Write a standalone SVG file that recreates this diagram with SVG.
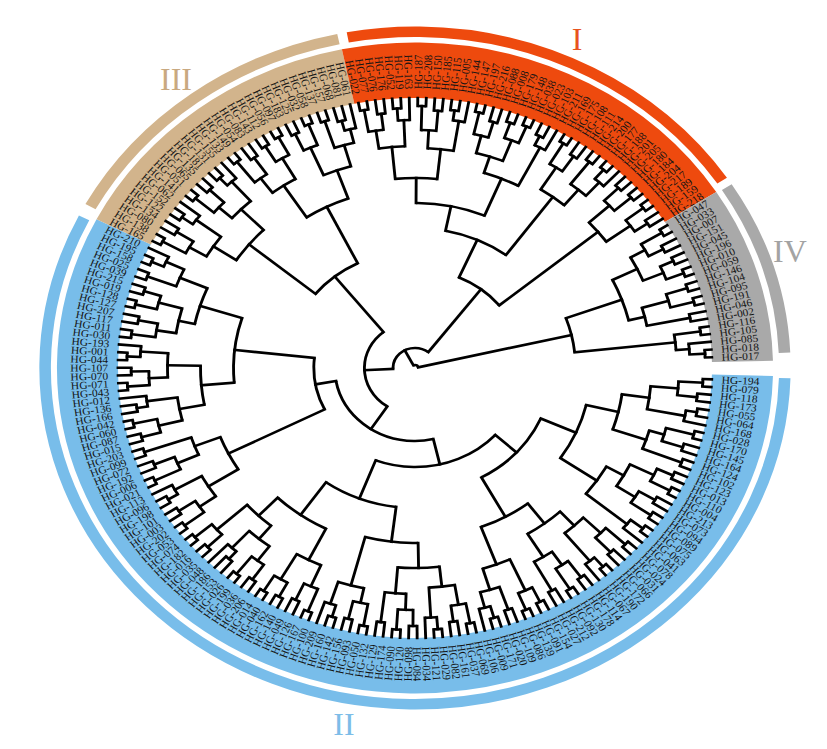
<svg xmlns="http://www.w3.org/2000/svg" width="827" height="749" viewBox="0 0 827 749">
<style>
.tree line,.tree circle{fill:none;stroke:#000;stroke-width:2.6}
.tree line{stroke-linecap:square}
.lb text{font-family:"Liberation Serif","Times New Roman",serif;font-size:10.5px;fill:#141414;dominant-baseline:central}
.lb .e{text-anchor:end}
.bd{fill:none}
.rn{font-family:"Liberation Serif","Times New Roman",serif;font-size:32px;text-anchor:middle}
</style>
<rect width="827" height="749" fill="#fff"/>
<g transform="translate(415,368) scale(1.1,1)">
<g id="bands" transform="rotate(0.755)">
<circle class="bd" r="297.75" stroke-width="55.5" pathLength="218.845" stroke="#78BDEA" stroke-dasharray="0 0.4 125.1 999"/>
<circle class="bd" r="297.75" stroke-width="55.5" pathLength="218.845" stroke="#D2B48C" stroke-dasharray="0 125.5 31 999"/>
<circle class="bd" r="297.75" stroke-width="55.5" pathLength="218.845" stroke="#EE4A0E" stroke-dasharray="0 156.5 42 999"/>
<circle class="bd" r="297.75" stroke-width="55.5" pathLength="218.845" stroke="#A9A9A9" stroke-dasharray="0 198.5 19.1 999"/>
<circle class="bd" r="336.25" stroke-width="10.5" pathLength="218.845" stroke="#78BDEA" stroke-dasharray="0 0.6 124.5 999"/>
<circle class="bd" r="336.25" stroke-width="10.5" pathLength="218.845" stroke="#D2B48C" stroke-dasharray="0 126.4 30 999"/>
<circle class="bd" r="336.25" stroke-width="10.5" pathLength="218.845" stroke="#EE4A0E" stroke-dasharray="0 157.3 40.5 999"/>
<circle class="bd" r="336.25" stroke-width="10.5" pathLength="218.845" stroke="#A9A9A9" stroke-dasharray="0 198.6 18.2 999"/>
</g>
<g id="connectors" class="tree">
<g transform="rotate(0.755)">
<circle r="262" pathLength="218.845" stroke-dasharray="0 1 1 999"/>
<circle r="258" pathLength="218.845" stroke-dasharray="0 3 1 999"/>
<circle r="240" pathLength="218.845" stroke-dasharray="0 1.5 2 999"/>
<circle r="260" pathLength="218.845" stroke-dasharray="0 5 1 999"/>
<circle r="250" pathLength="218.845" stroke-dasharray="0 5.5 1.5 999"/>
<circle r="215" pathLength="218.845" stroke-dasharray="0 2.5 3.75 999"/>
<circle r="262" pathLength="218.845" stroke-dasharray="0 8 1 999"/>
<circle r="256" pathLength="218.845" stroke-dasharray="0 10 1 999"/>
<circle r="236" pathLength="218.845" stroke-dasharray="0 8.5 2 999"/>
<circle r="260" pathLength="218.845" stroke-dasharray="0 12 1 999"/>
<circle r="222" pathLength="218.845" stroke-dasharray="0 9.5 3 999"/>
<circle r="190" pathLength="218.845" stroke-dasharray="0 4.375 6.625 999"/>
<circle r="258" pathLength="218.845" stroke-dasharray="0 14 1 999"/>
<circle r="262" pathLength="218.845" stroke-dasharray="0 16 1 999"/>
<circle r="242" pathLength="218.845" stroke-dasharray="0 14.5 2 999"/>
<circle r="255" pathLength="218.845" stroke-dasharray="0 18 1 999"/>
<circle r="260" pathLength="218.845" stroke-dasharray="0 20 1 999"/>
<circle r="238" pathLength="218.845" stroke-dasharray="0 18.5 2 999"/>
<circle r="218" pathLength="218.845" stroke-dasharray="0 15.5 4 999"/>
<circle r="262" pathLength="218.845" stroke-dasharray="0 22 1 999"/>
<circle r="248" pathLength="218.845" stroke-dasharray="0 22.5 1.5 999"/>
<circle r="200" pathLength="218.845" stroke-dasharray="0 17.5 5.75 999"/>
<circle r="160" pathLength="218.845" stroke-dasharray="0 7.6875 12.6875 999"/>
<circle r="260" pathLength="218.845" stroke-dasharray="0 25 1 999"/>
<circle r="256" pathLength="218.845" stroke-dasharray="0 27 1 999"/>
<circle r="236" pathLength="218.845" stroke-dasharray="0 25.5 2 999"/>
<circle r="262" pathLength="218.845" stroke-dasharray="0 29 1 999"/>
<circle r="250" pathLength="218.845" stroke-dasharray="0 29.5 1.5 999"/>
<circle r="214" pathLength="218.845" stroke-dasharray="0 26.5 3.75 999"/>
<circle r="258" pathLength="218.845" stroke-dasharray="0 32 1 999"/>
<circle r="262" pathLength="218.845" stroke-dasharray="0 34 1 999"/>
<circle r="238" pathLength="218.845" stroke-dasharray="0 32.5 2 999"/>
<circle r="255" pathLength="218.845" stroke-dasharray="0 36 1 999"/>
<circle r="222" pathLength="218.845" stroke-dasharray="0 33.5 3 999"/>
<circle r="195" pathLength="218.845" stroke-dasharray="0 28.375 6.625 999"/>
<circle r="260" pathLength="218.845" stroke-dasharray="0 38 1 999"/>
<circle r="262" pathLength="218.845" stroke-dasharray="0 40 1 999"/>
<circle r="244" pathLength="218.845" stroke-dasharray="0 38.5 2 999"/>
<circle r="256" pathLength="218.845" stroke-dasharray="0 42 1 999"/>
<circle r="260" pathLength="218.845" stroke-dasharray="0 44 1 999"/>
<circle r="248" pathLength="218.845" stroke-dasharray="0 44.5 1.5 999"/>
<circle r="232" pathLength="218.845" stroke-dasharray="0 42.5 2.75 999"/>
<circle r="210" pathLength="218.845" stroke-dasharray="0 39.5 4.375 999"/>
<circle r="170" pathLength="218.845" stroke-dasharray="0 31.6875 10 999"/>
<circle r="125" pathLength="218.845" stroke-dasharray="0 14.03125 22.65625 999"/>
<circle r="260" pathLength="218.845" stroke-dasharray="0 47 1 999"/>
<circle r="256" pathLength="218.845" stroke-dasharray="0 49 1 999"/>
<circle r="240" pathLength="218.845" stroke-dasharray="0 47.5 2 999"/>
<circle r="262" pathLength="218.845" stroke-dasharray="0 51 1 999"/>
<circle r="250" pathLength="218.845" stroke-dasharray="0 51.5 1.5 999"/>
<circle r="220" pathLength="218.845" stroke-dasharray="0 48.5 3.75 999"/>
<circle r="258" pathLength="218.845" stroke-dasharray="0 54 1 999"/>
<circle r="262" pathLength="218.845" stroke-dasharray="0 56 1 999"/>
<circle r="242" pathLength="218.845" stroke-dasharray="0 54.5 2 999"/>
<circle r="256" pathLength="218.845" stroke-dasharray="0 58 1 999"/>
<circle r="226" pathLength="218.845" stroke-dasharray="0 55.5 3 999"/>
<circle r="200" pathLength="218.845" stroke-dasharray="0 50.375 6.625 999"/>
<circle r="262" pathLength="218.845" stroke-dasharray="0 60 1 999"/>
<circle r="258" pathLength="218.845" stroke-dasharray="0 62 1 999"/>
<circle r="240" pathLength="218.845" stroke-dasharray="0 60.5 2 999"/>
<circle r="260" pathLength="218.845" stroke-dasharray="0 64 1 999"/>
<circle r="248" pathLength="218.845" stroke-dasharray="0 64.5 1.5 999"/>
<circle r="225" pathLength="218.845" stroke-dasharray="0 61.5 3.75 999"/>
<circle r="175" pathLength="218.845" stroke-dasharray="0 53.6875 9.6875 999"/>
<circle r="262" pathLength="218.845" stroke-dasharray="0 67 1 999"/>
<circle r="256" pathLength="218.845" stroke-dasharray="0 69 1 999"/>
<circle r="238" pathLength="218.845" stroke-dasharray="0 67.5 2 999"/>
<circle r="260" pathLength="218.845" stroke-dasharray="0 71 1 999"/>
<circle r="262" pathLength="218.845" stroke-dasharray="0 73 1 999"/>
<circle r="244" pathLength="218.845" stroke-dasharray="0 71.5 2 999"/>
<circle r="215" pathLength="218.845" stroke-dasharray="0 68.5 4 999"/>
<circle r="258" pathLength="218.845" stroke-dasharray="0 75 1 999"/>
<circle r="262" pathLength="218.845" stroke-dasharray="0 77 1 999"/>
<circle r="240" pathLength="218.845" stroke-dasharray="0 75.5 2 999"/>
<circle r="255" pathLength="218.845" stroke-dasharray="0 79 1 999"/>
<circle r="245" pathLength="218.845" stroke-dasharray="0 79.5 1.5 999"/>
<circle r="222" pathLength="218.845" stroke-dasharray="0 76.5 3.75 999"/>
<circle r="260" pathLength="218.845" stroke-dasharray="0 82 1 999"/>
<circle r="262" pathLength="218.845" stroke-dasharray="0 84 1 999"/>
<circle r="242" pathLength="218.845" stroke-dasharray="0 82.5 2 999"/>
<circle r="205" pathLength="218.845" stroke-dasharray="0 78.375 5.125 999"/>
<circle r="180" pathLength="218.845" stroke-dasharray="0 70.5 10.4375 999"/>
<circle r="140" pathLength="218.845" stroke-dasharray="0 58.53125 17.1875 999"/>
<circle r="99" pathLength="218.845" stroke-dasharray="0 25.359375 41.765625 999"/>
<circle r="262" pathLength="218.845" stroke-dasharray="0 86 1 999"/>
<circle r="258" pathLength="218.845" stroke-dasharray="0 88 1 999"/>
<circle r="240" pathLength="218.845" stroke-dasharray="0 86.5 2 999"/>
<circle r="260" pathLength="218.845" stroke-dasharray="0 90 1 999"/>
<circle r="250" pathLength="218.845" stroke-dasharray="0 90.5 1.5 999"/>
<circle r="222" pathLength="218.845" stroke-dasharray="0 87.5 3.75 999"/>
<circle r="262" pathLength="218.845" stroke-dasharray="0 93 1 999"/>
<circle r="256" pathLength="218.845" stroke-dasharray="0 95 1 999"/>
<circle r="236" pathLength="218.845" stroke-dasharray="0 93.5 2 999"/>
<circle r="260" pathLength="218.845" stroke-dasharray="0 97 1 999"/>
<circle r="215" pathLength="218.845" stroke-dasharray="0 94.5 3 999"/>
<circle r="190" pathLength="218.845" stroke-dasharray="0 89.375 6.625 999"/>
<circle r="258" pathLength="218.845" stroke-dasharray="0 99 1 999"/>
<circle r="262" pathLength="218.845" stroke-dasharray="0 101 1 999"/>
<circle r="240" pathLength="218.845" stroke-dasharray="0 99.5 2 999"/>
<circle r="256" pathLength="218.845" stroke-dasharray="0 103 1 999"/>
<circle r="246" pathLength="218.845" stroke-dasharray="0 103.5 1.5 999"/>
<circle r="218" pathLength="218.845" stroke-dasharray="0 100.5 3.75 999"/>
<circle r="262" pathLength="218.845" stroke-dasharray="0 106 1 999"/>
<circle r="258" pathLength="218.845" stroke-dasharray="0 108 1 999"/>
<circle r="242" pathLength="218.845" stroke-dasharray="0 106.5 2 999"/>
<circle r="262" pathLength="218.845" stroke-dasharray="0 110 1 999"/>
<circle r="250" pathLength="218.845" stroke-dasharray="0 110.5 1.5 999"/>
<circle r="225" pathLength="218.845" stroke-dasharray="0 107.5 3.75 999"/>
<circle r="195" pathLength="218.845" stroke-dasharray="0 102.375 7 999"/>
<circle r="260" pathLength="218.845" stroke-dasharray="0 113 1 999"/>
<circle r="256" pathLength="218.845" stroke-dasharray="0 115 1 999"/>
<circle r="238" pathLength="218.845" stroke-dasharray="0 113.5 2 999"/>
<circle r="262" pathLength="218.845" stroke-dasharray="0 117 1 999"/>
<circle r="258" pathLength="218.845" stroke-dasharray="0 119 1 999"/>
<circle r="242" pathLength="218.845" stroke-dasharray="0 117.5 2 999"/>
<circle r="220" pathLength="218.845" stroke-dasharray="0 114.5 4 999"/>
<circle r="260" pathLength="218.845" stroke-dasharray="0 121 1 999"/>
<circle r="262" pathLength="218.845" stroke-dasharray="0 123 1 999"/>
<circle r="250" pathLength="218.845" stroke-dasharray="0 123.5 1.5 999"/>
<circle r="232" pathLength="218.845" stroke-dasharray="0 121.5 2.75 999"/>
<circle r="205" pathLength="218.845" stroke-dasharray="0 116.5 6.375 999"/>
<circle r="165" pathLength="218.845" stroke-dasharray="0 105.875 13.8125 999"/>
<circle r="92" pathLength="218.845" stroke-dasharray="0 92.6875 20.09375 999"/>
<circle r="73" pathLength="218.845" stroke-dasharray="0 46.2421875 56.4921875 999"/>
<circle r="262" pathLength="218.845" stroke-dasharray="0 126 1 999"/>
<circle r="256" pathLength="218.845" stroke-dasharray="0 128 1 999"/>
<circle r="238" pathLength="218.845" stroke-dasharray="0 126.5 2 999"/>
<circle r="260" pathLength="218.845" stroke-dasharray="0 130 1 999"/>
<circle r="248" pathLength="218.845" stroke-dasharray="0 130.5 1.5 999"/>
<circle r="220" pathLength="218.845" stroke-dasharray="0 127.5 3.75 999"/>
<circle r="262" pathLength="218.845" stroke-dasharray="0 133 1 999"/>
<circle r="258" pathLength="218.845" stroke-dasharray="0 135 1 999"/>
<circle r="240" pathLength="218.845" stroke-dasharray="0 133.5 2 999"/>
<circle r="260" pathLength="218.845" stroke-dasharray="0 137 1 999"/>
<circle r="250" pathLength="218.845" stroke-dasharray="0 137.5 1.5 999"/>
<circle r="224" pathLength="218.845" stroke-dasharray="0 134.5 3.75 999"/>
<circle r="195" pathLength="218.845" stroke-dasharray="0 129.375 7 999"/>
<circle r="262" pathLength="218.845" stroke-dasharray="0 140 1 999"/>
<circle r="256" pathLength="218.845" stroke-dasharray="0 142 1 999"/>
<circle r="236" pathLength="218.845" stroke-dasharray="0 140.5 2 999"/>
<circle r="260" pathLength="218.845" stroke-dasharray="0 144 1 999"/>
<circle r="262" pathLength="218.845" stroke-dasharray="0 146 1 999"/>
<circle r="242" pathLength="218.845" stroke-dasharray="0 144.5 2 999"/>
<circle r="218" pathLength="218.845" stroke-dasharray="0 141.5 4 999"/>
<circle r="258" pathLength="218.845" stroke-dasharray="0 148 1 999"/>
<circle r="262" pathLength="218.845" stroke-dasharray="0 150 1 999"/>
<circle r="240" pathLength="218.845" stroke-dasharray="0 148.5 2 999"/>
<circle r="260" pathLength="218.845" stroke-dasharray="0 152 1 999"/>
<circle r="256" pathLength="218.845" stroke-dasharray="0 154 1 999"/>
<circle r="246" pathLength="218.845" stroke-dasharray="0 154.5 1.5 999"/>
<circle r="232" pathLength="218.845" stroke-dasharray="0 152.5 2.75 999"/>
<circle r="210" pathLength="218.845" stroke-dasharray="0 149.5 4.375 999"/>
<circle r="180" pathLength="218.845" stroke-dasharray="0 143.5 8.1875 999"/>
<circle r="117" pathLength="218.845" stroke-dasharray="0 132.875 14.71875 999"/>
<circle r="46" pathLength="218.845" stroke-dasharray="0 74.48828 65.74609 999"/>
<circle r="262" pathLength="218.845" stroke-dasharray="0 157 1 999"/>
<circle r="256" pathLength="218.845" stroke-dasharray="0 159 1 999"/>
<circle r="240" pathLength="218.845" stroke-dasharray="0 157.5 2 999"/>
<circle r="260" pathLength="218.845" stroke-dasharray="0 161 1 999"/>
<circle r="248" pathLength="218.845" stroke-dasharray="0 161.5 1.5 999"/>
<circle r="222" pathLength="218.845" stroke-dasharray="0 158.5 3.75 999"/>
<circle r="262" pathLength="218.845" stroke-dasharray="0 164 1 999"/>
<circle r="258" pathLength="218.845" stroke-dasharray="0 166 1 999"/>
<circle r="238" pathLength="218.845" stroke-dasharray="0 164.5 2 999"/>
<circle r="260" pathLength="218.845" stroke-dasharray="0 168 1 999"/>
<circle r="250" pathLength="218.845" stroke-dasharray="0 168.5 1.5 999"/>
<circle r="220" pathLength="218.845" stroke-dasharray="0 165.5 3.75 999"/>
<circle r="190" pathLength="218.845" stroke-dasharray="0 160.375 7 999"/>
<circle r="262" pathLength="218.845" stroke-dasharray="0 171 1 999"/>
<circle r="256" pathLength="218.845" stroke-dasharray="0 173 1 999"/>
<circle r="240" pathLength="218.845" stroke-dasharray="0 171.5 2 999"/>
<circle r="260" pathLength="218.845" stroke-dasharray="0 175 1 999"/>
<circle r="262" pathLength="218.845" stroke-dasharray="0 177 1 999"/>
<circle r="244" pathLength="218.845" stroke-dasharray="0 175.5 2 999"/>
<circle r="222" pathLength="218.845" stroke-dasharray="0 172.5 4 999"/>
<circle r="258" pathLength="218.845" stroke-dasharray="0 179 1 999"/>
<circle r="248" pathLength="218.845" stroke-dasharray="0 179.5 1.5 999"/>
<circle r="205" pathLength="218.845" stroke-dasharray="0 174.5 5.75 999"/>
<circle r="165" pathLength="218.845" stroke-dasharray="0 163.875 13.5 999"/>
<circle r="262" pathLength="218.845" stroke-dasharray="0 182 1 999"/>
<circle r="256" pathLength="218.845" stroke-dasharray="0 184 1 999"/>
<circle r="238" pathLength="218.845" stroke-dasharray="0 182.5 2 999"/>
<circle r="260" pathLength="218.845" stroke-dasharray="0 186 1 999"/>
<circle r="262" pathLength="218.845" stroke-dasharray="0 188 1 999"/>
<circle r="250" pathLength="218.845" stroke-dasharray="0 188.5 1.5 999"/>
<circle r="232" pathLength="218.845" stroke-dasharray="0 186.5 2.75 999"/>
<circle r="212" pathLength="218.845" stroke-dasharray="0 183.5 4.375 999"/>
<circle r="140" pathLength="218.845" stroke-dasharray="0 170.625 15.0625 999"/>
<circle r="258" pathLength="218.845" stroke-dasharray="0 191 1 999"/>
<circle r="260" pathLength="218.845" stroke-dasharray="0 193 1 999"/>
<circle r="240" pathLength="218.845" stroke-dasharray="0 191.5 2 999"/>
<circle r="262" pathLength="218.845" stroke-dasharray="0 195 1 999"/>
<circle r="256" pathLength="218.845" stroke-dasharray="0 197 1 999"/>
<circle r="242" pathLength="218.845" stroke-dasharray="0 195.5 2 999"/>
<circle r="215" pathLength="218.845" stroke-dasharray="0 192.5 4 999"/>
<circle r="99" pathLength="218.845" stroke-dasharray="0 178.15625 16.34375 999"/>
<circle r="20" pathLength="218.845" stroke-dasharray="0 107.3613 78.9668 999"/>
<circle r="262" pathLength="218.845" stroke-dasharray="0 199 1 999"/>
<circle r="255" pathLength="218.845" stroke-dasharray="0 201 1 999"/>
<circle r="240" pathLength="218.845" stroke-dasharray="0 199.5 2 999"/>
<circle r="258" pathLength="218.845" stroke-dasharray="0 203 1 999"/>
<circle r="262" pathLength="218.845" stroke-dasharray="0 205 1 999"/>
<circle r="245" pathLength="218.845" stroke-dasharray="0 203.5 2 999"/>
<circle r="225" pathLength="218.845" stroke-dasharray="0 200.5 4 999"/>
<circle r="260" pathLength="218.845" stroke-dasharray="0 207 1 999"/>
<circle r="262" pathLength="218.845" stroke-dasharray="0 209 1 999"/>
<circle r="240" pathLength="218.845" stroke-dasharray="0 207.5 2 999"/>
<circle r="255" pathLength="218.845" stroke-dasharray="0 211 1 999"/>
<circle r="215" pathLength="218.845" stroke-dasharray="0 208.5 3 999"/>
<circle r="200" pathLength="218.845" stroke-dasharray="0 202.5 7.5 999"/>
<circle r="262" pathLength="218.845" stroke-dasharray="0 213 1 999"/>
<circle r="264" pathLength="218.845" stroke-dasharray="0 216 1 999"/>
<circle r="250" pathLength="218.845" stroke-dasharray="0 215 1.5 999"/>
<circle r="238" pathLength="218.845" stroke-dasharray="0 213.5 2.25 999"/>
<circle r="146" pathLength="218.845" stroke-dasharray="0 206.25 8.375 999"/>
<circle r="3" pathLength="218.845" stroke-dasharray="0 146.845 63.5925 999"/>
</g>
<line x1="240" x2="262" transform="rotate(3.22)"/>
<line x1="240" x2="258" transform="rotate(6.51)"/>
<line x1="215" x2="240" transform="rotate(4.87)"/>
<line x1="250" x2="260" transform="rotate(9.80)"/>
<line x1="215" x2="250" transform="rotate(11.04)"/>
<line x1="190" x2="215" transform="rotate(7.95)"/>
<line x1="236" x2="262" transform="rotate(14.74)"/>
<line x1="236" x2="256" transform="rotate(18.03)"/>
<line x1="222" x2="236" transform="rotate(16.38)"/>
<line x1="222" x2="260" transform="rotate(21.32)"/>
<line x1="190" x2="222" transform="rotate(18.85)"/>
<line x1="160" x2="190" transform="rotate(13.40)"/>
<line x1="242" x2="258" transform="rotate(24.61)"/>
<line x1="242" x2="262" transform="rotate(27.90)"/>
<line x1="218" x2="242" transform="rotate(26.25)"/>
<line x1="238" x2="255" transform="rotate(31.19)"/>
<line x1="238" x2="260" transform="rotate(34.48)"/>
<line x1="218" x2="238" transform="rotate(32.83)"/>
<line x1="200" x2="218" transform="rotate(29.54)"/>
<line x1="248" x2="262" transform="rotate(37.77)"/>
<line x1="200" x2="248" transform="rotate(39.00)"/>
<line x1="160" x2="200" transform="rotate(34.27)"/>
<line x1="125" x2="160" transform="rotate(23.84)"/>
<line x1="236" x2="260" transform="rotate(42.70)"/>
<line x1="236" x2="256" transform="rotate(45.99)"/>
<line x1="214" x2="236" transform="rotate(44.35)"/>
<line x1="250" x2="262" transform="rotate(49.28)"/>
<line x1="214" x2="250" transform="rotate(50.52)"/>
<line x1="195" x2="214" transform="rotate(47.43)"/>
<line x1="238" x2="258" transform="rotate(54.22)"/>
<line x1="238" x2="262" transform="rotate(57.51)"/>
<line x1="222" x2="238" transform="rotate(55.86)"/>
<line x1="222" x2="255" transform="rotate(60.80)"/>
<line x1="195" x2="222" transform="rotate(58.33)"/>
<line x1="170" x2="195" transform="rotate(52.88)"/>
<line x1="244" x2="260" transform="rotate(64.09)"/>
<line x1="244" x2="262" transform="rotate(67.38)"/>
<line x1="210" x2="244" transform="rotate(65.73)"/>
<line x1="232" x2="256" transform="rotate(70.67)"/>
<line x1="248" x2="260" transform="rotate(73.96)"/>
<line x1="232" x2="248" transform="rotate(75.19)"/>
<line x1="210" x2="232" transform="rotate(72.93)"/>
<line x1="170" x2="210" transform="rotate(69.33)"/>
<line x1="125" x2="170" transform="rotate(61.11)"/>
<line x1="99" x2="125" transform="rotate(42.47)"/>
<line x1="240" x2="260" transform="rotate(78.89)"/>
<line x1="240" x2="256" transform="rotate(82.18)"/>
<line x1="220" x2="240" transform="rotate(80.54)"/>
<line x1="250" x2="262" transform="rotate(85.47)"/>
<line x1="220" x2="250" transform="rotate(86.71)"/>
<line x1="200" x2="220" transform="rotate(83.62)"/>
<line x1="242" x2="258" transform="rotate(90.41)"/>
<line x1="242" x2="262" transform="rotate(93.70)"/>
<line x1="226" x2="242" transform="rotate(92.05)"/>
<line x1="226" x2="256" transform="rotate(96.99)"/>
<line x1="200" x2="226" transform="rotate(94.52)"/>
<line x1="175" x2="200" transform="rotate(89.07)"/>
<line x1="240" x2="262" transform="rotate(100.28)"/>
<line x1="240" x2="258" transform="rotate(103.57)"/>
<line x1="225" x2="240" transform="rotate(101.92)"/>
<line x1="248" x2="260" transform="rotate(106.86)"/>
<line x1="225" x2="248" transform="rotate(108.09)"/>
<line x1="175" x2="225" transform="rotate(105.01)"/>
<line x1="140" x2="175" transform="rotate(97.04)"/>
<line x1="238" x2="262" transform="rotate(111.79)"/>
<line x1="238" x2="256" transform="rotate(115.08)"/>
<line x1="215" x2="238" transform="rotate(113.44)"/>
<line x1="244" x2="260" transform="rotate(118.37)"/>
<line x1="244" x2="262" transform="rotate(121.66)"/>
<line x1="215" x2="244" transform="rotate(120.02)"/>
<line x1="180" x2="215" transform="rotate(116.73)"/>
<line x1="240" x2="258" transform="rotate(124.95)"/>
<line x1="240" x2="262" transform="rotate(128.24)"/>
<line x1="222" x2="240" transform="rotate(126.60)"/>
<line x1="245" x2="255" transform="rotate(131.53)"/>
<line x1="222" x2="245" transform="rotate(132.77)"/>
<line x1="205" x2="222" transform="rotate(129.68)"/>
<line x1="242" x2="260" transform="rotate(136.47)"/>
<line x1="242" x2="262" transform="rotate(139.76)"/>
<line x1="205" x2="242" transform="rotate(138.11)"/>
<line x1="180" x2="205" transform="rotate(133.90)"/>
<line x1="140" x2="180" transform="rotate(125.31)"/>
<line x1="99" x2="140" transform="rotate(111.18)"/>
<line x1="73" x2="99" transform="rotate(76.82)"/>
<line x1="240" x2="262" transform="rotate(143.05)"/>
<line x1="240" x2="258" transform="rotate(146.34)"/>
<line x1="222" x2="240" transform="rotate(144.69)"/>
<line x1="250" x2="260" transform="rotate(149.63)"/>
<line x1="222" x2="250" transform="rotate(150.86)"/>
<line x1="190" x2="222" transform="rotate(147.78)"/>
<line x1="236" x2="262" transform="rotate(154.56)"/>
<line x1="236" x2="256" transform="rotate(157.85)"/>
<line x1="215" x2="236" transform="rotate(156.21)"/>
<line x1="215" x2="260" transform="rotate(161.14)"/>
<line x1="190" x2="215" transform="rotate(158.68)"/>
<line x1="92" x2="190" transform="rotate(153.23)"/>
<line x1="240" x2="258" transform="rotate(164.43)"/>
<line x1="240" x2="262" transform="rotate(167.72)"/>
<line x1="218" x2="240" transform="rotate(166.08)"/>
<line x1="246" x2="256" transform="rotate(171.01)"/>
<line x1="218" x2="246" transform="rotate(172.25)"/>
<line x1="195" x2="218" transform="rotate(169.16)"/>
<line x1="242" x2="262" transform="rotate(175.95)"/>
<line x1="242" x2="258" transform="rotate(179.24)"/>
<line x1="225" x2="242" transform="rotate(177.59)"/>
<line x1="250" x2="262" transform="rotate(182.53)"/>
<line x1="225" x2="250" transform="rotate(183.76)"/>
<line x1="195" x2="225" transform="rotate(180.68)"/>
<line x1="165" x2="195" transform="rotate(174.92)"/>
<line x1="238" x2="260" transform="rotate(187.46)"/>
<line x1="238" x2="256" transform="rotate(190.75)"/>
<line x1="220" x2="238" transform="rotate(189.11)"/>
<line x1="242" x2="262" transform="rotate(194.04)"/>
<line x1="242" x2="258" transform="rotate(197.33)"/>
<line x1="220" x2="242" transform="rotate(195.69)"/>
<line x1="205" x2="220" transform="rotate(192.40)"/>
<line x1="232" x2="260" transform="rotate(200.62)"/>
<line x1="250" x2="262" transform="rotate(203.91)"/>
<line x1="232" x2="250" transform="rotate(205.15)"/>
<line x1="205" x2="232" transform="rotate(202.88)"/>
<line x1="165" x2="205" transform="rotate(197.64)"/>
<line x1="92" x2="165" transform="rotate(186.28)"/>
<line x1="73" x2="92" transform="rotate(169.75)"/>
<line x1="46" x2="73" transform="rotate(123.29)"/>
<line x1="238" x2="262" transform="rotate(208.85)"/>
<line x1="238" x2="256" transform="rotate(212.14)"/>
<line x1="220" x2="238" transform="rotate(210.49)"/>
<line x1="248" x2="260" transform="rotate(215.43)"/>
<line x1="220" x2="248" transform="rotate(216.66)"/>
<line x1="195" x2="220" transform="rotate(213.58)"/>
<line x1="240" x2="262" transform="rotate(220.36)"/>
<line x1="240" x2="258" transform="rotate(223.65)"/>
<line x1="224" x2="240" transform="rotate(222.01)"/>
<line x1="250" x2="260" transform="rotate(226.94)"/>
<line x1="224" x2="250" transform="rotate(228.18)"/>
<line x1="195" x2="224" transform="rotate(225.09)"/>
<line x1="117" x2="195" transform="rotate(219.33)"/>
<line x1="236" x2="262" transform="rotate(231.88)"/>
<line x1="236" x2="256" transform="rotate(235.17)"/>
<line x1="218" x2="236" transform="rotate(233.52)"/>
<line x1="242" x2="260" transform="rotate(238.46)"/>
<line x1="242" x2="262" transform="rotate(241.75)"/>
<line x1="218" x2="242" transform="rotate(240.10)"/>
<line x1="180" x2="218" transform="rotate(236.81)"/>
<line x1="240" x2="258" transform="rotate(245.04)"/>
<line x1="240" x2="262" transform="rotate(248.33)"/>
<line x1="210" x2="240" transform="rotate(246.68)"/>
<line x1="232" x2="260" transform="rotate(251.62)"/>
<line x1="246" x2="256" transform="rotate(254.91)"/>
<line x1="232" x2="246" transform="rotate(256.14)"/>
<line x1="210" x2="232" transform="rotate(253.88)"/>
<line x1="180" x2="210" transform="rotate(250.28)"/>
<line x1="117" x2="180" transform="rotate(243.55)"/>
<line x1="46" x2="117" transform="rotate(231.44)"/>
<line x1="20" x2="46" transform="rotate(177.36)"/>
<line x1="240" x2="262" transform="rotate(259.84)"/>
<line x1="240" x2="256" transform="rotate(263.13)"/>
<line x1="222" x2="240" transform="rotate(261.49)"/>
<line x1="248" x2="260" transform="rotate(266.42)"/>
<line x1="222" x2="248" transform="rotate(267.66)"/>
<line x1="190" x2="222" transform="rotate(264.57)"/>
<line x1="238" x2="262" transform="rotate(271.36)"/>
<line x1="238" x2="258" transform="rotate(274.65)"/>
<line x1="220" x2="238" transform="rotate(273.00)"/>
<line x1="250" x2="260" transform="rotate(277.94)"/>
<line x1="220" x2="250" transform="rotate(279.17)"/>
<line x1="190" x2="220" transform="rotate(276.09)"/>
<line x1="165" x2="190" transform="rotate(270.33)"/>
<line x1="240" x2="262" transform="rotate(282.87)"/>
<line x1="240" x2="256" transform="rotate(286.16)"/>
<line x1="222" x2="240" transform="rotate(284.52)"/>
<line x1="244" x2="260" transform="rotate(289.45)"/>
<line x1="244" x2="262" transform="rotate(292.74)"/>
<line x1="222" x2="244" transform="rotate(291.10)"/>
<line x1="205" x2="222" transform="rotate(287.81)"/>
<line x1="248" x2="258" transform="rotate(296.03)"/>
<line x1="205" x2="248" transform="rotate(297.27)"/>
<line x1="165" x2="205" transform="rotate(292.54)"/>
<line x1="140" x2="165" transform="rotate(281.43)"/>
<line x1="238" x2="262" transform="rotate(300.97)"/>
<line x1="238" x2="256" transform="rotate(304.26)"/>
<line x1="212" x2="238" transform="rotate(302.61)"/>
<line x1="232" x2="260" transform="rotate(307.55)"/>
<line x1="250" x2="262" transform="rotate(310.84)"/>
<line x1="232" x2="250" transform="rotate(312.07)"/>
<line x1="212" x2="232" transform="rotate(309.81)"/>
<line x1="140" x2="212" transform="rotate(306.21)"/>
<line x1="99" x2="140" transform="rotate(293.82)"/>
<line x1="240" x2="258" transform="rotate(315.77)"/>
<line x1="240" x2="260" transform="rotate(319.06)"/>
<line x1="215" x2="240" transform="rotate(317.42)"/>
<line x1="242" x2="262" transform="rotate(322.35)"/>
<line x1="242" x2="256" transform="rotate(325.64)"/>
<line x1="215" x2="242" transform="rotate(324.00)"/>
<line x1="99" x2="215" transform="rotate(320.71)"/>
<line x1="20" x2="99" transform="rotate(307.26)"/>
<line x1="3" x2="20" transform="rotate(242.31)"/>
<line x1="240" x2="262" transform="rotate(328.93)"/>
<line x1="240" x2="255" transform="rotate(332.22)"/>
<line x1="225" x2="240" transform="rotate(330.58)"/>
<line x1="245" x2="258" transform="rotate(335.51)"/>
<line x1="245" x2="262" transform="rotate(338.80)"/>
<line x1="225" x2="245" transform="rotate(337.16)"/>
<line x1="200" x2="225" transform="rotate(333.87)"/>
<line x1="240" x2="260" transform="rotate(342.09)"/>
<line x1="240" x2="262" transform="rotate(345.38)"/>
<line x1="215" x2="240" transform="rotate(343.74)"/>
<line x1="215" x2="255" transform="rotate(348.67)"/>
<line x1="200" x2="215" transform="rotate(346.21)"/>
<line x1="146" x2="200" transform="rotate(340.04)"/>
<line x1="238" x2="262" transform="rotate(351.96)"/>
<line x1="250" x2="264" transform="rotate(356.90)"/>
<line x1="238" x2="250" transform="rotate(355.66)"/>
<line x1="146" x2="238" transform="rotate(353.81)"/>
<line x1="3" x2="146" transform="rotate(346.93)"/>
<line x1="262" x2="270" transform="rotate(2.4)"/>
<line x1="262" x2="270" transform="rotate(4.045)"/>
<line x1="258" x2="270" transform="rotate(5.69)"/>
<line x1="258" x2="270" transform="rotate(7.335)"/>
<line x1="260" x2="270" transform="rotate(8.98)"/>
<line x1="260" x2="270" transform="rotate(10.625)"/>
<line x1="250" x2="270" transform="rotate(12.27)"/>
<line x1="262" x2="270" transform="rotate(13.915)"/>
<line x1="262" x2="270" transform="rotate(15.56)"/>
<line x1="256" x2="270" transform="rotate(17.205)"/>
<line x1="256" x2="270" transform="rotate(18.85)"/>
<line x1="260" x2="270" transform="rotate(20.495)"/>
<line x1="260" x2="270" transform="rotate(22.14)"/>
<line x1="258" x2="270" transform="rotate(23.785)"/>
<line x1="258" x2="270" transform="rotate(25.43)"/>
<line x1="262" x2="270" transform="rotate(27.075)"/>
<line x1="262" x2="270" transform="rotate(28.72)"/>
<line x1="255" x2="270" transform="rotate(30.365)"/>
<line x1="255" x2="270" transform="rotate(32.01)"/>
<line x1="260" x2="270" transform="rotate(33.655)"/>
<line x1="260" x2="270" transform="rotate(35.3)"/>
<line x1="262" x2="270" transform="rotate(36.945)"/>
<line x1="262" x2="270" transform="rotate(38.59)"/>
<line x1="248" x2="270" transform="rotate(40.235)"/>
<line x1="260" x2="270" transform="rotate(41.88)"/>
<line x1="260" x2="270" transform="rotate(43.525)"/>
<line x1="256" x2="270" transform="rotate(45.17)"/>
<line x1="256" x2="270" transform="rotate(46.815)"/>
<line x1="262" x2="270" transform="rotate(48.46)"/>
<line x1="262" x2="270" transform="rotate(50.105)"/>
<line x1="250" x2="270" transform="rotate(51.75)"/>
<line x1="258" x2="270" transform="rotate(53.395)"/>
<line x1="258" x2="270" transform="rotate(55.04)"/>
<line x1="262" x2="270" transform="rotate(56.685)"/>
<line x1="262" x2="270" transform="rotate(58.33)"/>
<line x1="255" x2="270" transform="rotate(59.975)"/>
<line x1="255" x2="270" transform="rotate(61.62)"/>
<line x1="260" x2="270" transform="rotate(63.265)"/>
<line x1="260" x2="270" transform="rotate(64.91)"/>
<line x1="262" x2="270" transform="rotate(66.555)"/>
<line x1="262" x2="270" transform="rotate(68.2)"/>
<line x1="256" x2="270" transform="rotate(69.845)"/>
<line x1="256" x2="270" transform="rotate(71.49)"/>
<line x1="260" x2="270" transform="rotate(73.135)"/>
<line x1="260" x2="270" transform="rotate(74.78)"/>
<line x1="248" x2="270" transform="rotate(76.425)"/>
<line x1="260" x2="270" transform="rotate(78.07)"/>
<line x1="260" x2="270" transform="rotate(79.715)"/>
<line x1="256" x2="270" transform="rotate(81.36)"/>
<line x1="256" x2="270" transform="rotate(83.005)"/>
<line x1="262" x2="270" transform="rotate(84.65)"/>
<line x1="262" x2="270" transform="rotate(86.295)"/>
<line x1="250" x2="270" transform="rotate(87.94)"/>
<line x1="258" x2="270" transform="rotate(89.585)"/>
<line x1="258" x2="270" transform="rotate(91.23)"/>
<line x1="262" x2="270" transform="rotate(92.875)"/>
<line x1="262" x2="270" transform="rotate(94.52)"/>
<line x1="256" x2="270" transform="rotate(96.165)"/>
<line x1="256" x2="270" transform="rotate(97.81)"/>
<line x1="262" x2="270" transform="rotate(99.455)"/>
<line x1="262" x2="270" transform="rotate(101.1)"/>
<line x1="258" x2="270" transform="rotate(102.745)"/>
<line x1="258" x2="270" transform="rotate(104.39)"/>
<line x1="260" x2="270" transform="rotate(106.035)"/>
<line x1="260" x2="270" transform="rotate(107.68)"/>
<line x1="248" x2="270" transform="rotate(109.325)"/>
<line x1="262" x2="270" transform="rotate(110.97)"/>
<line x1="262" x2="270" transform="rotate(112.615)"/>
<line x1="256" x2="270" transform="rotate(114.26)"/>
<line x1="256" x2="270" transform="rotate(115.905)"/>
<line x1="260" x2="270" transform="rotate(117.55)"/>
<line x1="260" x2="270" transform="rotate(119.195)"/>
<line x1="262" x2="270" transform="rotate(120.84)"/>
<line x1="262" x2="270" transform="rotate(122.485)"/>
<line x1="258" x2="270" transform="rotate(124.13)"/>
<line x1="258" x2="270" transform="rotate(125.775)"/>
<line x1="262" x2="270" transform="rotate(127.42)"/>
<line x1="262" x2="270" transform="rotate(129.065)"/>
<line x1="255" x2="270" transform="rotate(130.71)"/>
<line x1="255" x2="270" transform="rotate(132.355)"/>
<line x1="245" x2="270" transform="rotate(134)"/>
<line x1="260" x2="270" transform="rotate(135.645)"/>
<line x1="260" x2="270" transform="rotate(137.29)"/>
<line x1="262" x2="270" transform="rotate(138.935)"/>
<line x1="262" x2="270" transform="rotate(140.58)"/>
<line x1="262" x2="270" transform="rotate(142.225)"/>
<line x1="262" x2="270" transform="rotate(143.87)"/>
<line x1="258" x2="270" transform="rotate(145.515)"/>
<line x1="258" x2="270" transform="rotate(147.16)"/>
<line x1="260" x2="270" transform="rotate(148.805)"/>
<line x1="260" x2="270" transform="rotate(150.45)"/>
<line x1="250" x2="270" transform="rotate(152.095)"/>
<line x1="262" x2="270" transform="rotate(153.74)"/>
<line x1="262" x2="270" transform="rotate(155.385)"/>
<line x1="256" x2="270" transform="rotate(157.03)"/>
<line x1="256" x2="270" transform="rotate(158.675)"/>
<line x1="260" x2="270" transform="rotate(160.32)"/>
<line x1="260" x2="270" transform="rotate(161.965)"/>
<line x1="258" x2="270" transform="rotate(163.61)"/>
<line x1="258" x2="270" transform="rotate(165.255)"/>
<line x1="262" x2="270" transform="rotate(166.9)"/>
<line x1="262" x2="270" transform="rotate(168.545)"/>
<line x1="256" x2="270" transform="rotate(170.19)"/>
<line x1="256" x2="270" transform="rotate(171.835)"/>
<line x1="246" x2="270" transform="rotate(173.48)"/>
<line x1="262" x2="270" transform="rotate(175.125)"/>
<line x1="262" x2="270" transform="rotate(176.77)"/>
<line x1="258" x2="270" transform="rotate(178.415)"/>
<line x1="258" x2="270" transform="rotate(180.06)"/>
<line x1="262" x2="270" transform="rotate(181.705)"/>
<line x1="262" x2="270" transform="rotate(183.35)"/>
<line x1="250" x2="270" transform="rotate(184.995)"/>
<line x1="260" x2="270" transform="rotate(186.64)"/>
<line x1="260" x2="270" transform="rotate(188.285)"/>
<line x1="256" x2="270" transform="rotate(189.93)"/>
<line x1="256" x2="270" transform="rotate(191.575)"/>
<line x1="262" x2="270" transform="rotate(193.22)"/>
<line x1="262" x2="270" transform="rotate(194.865)"/>
<line x1="258" x2="270" transform="rotate(196.51)"/>
<line x1="258" x2="270" transform="rotate(198.155)"/>
<line x1="260" x2="270" transform="rotate(199.8)"/>
<line x1="260" x2="270" transform="rotate(201.445)"/>
<line x1="262" x2="270" transform="rotate(203.09)"/>
<line x1="262" x2="270" transform="rotate(204.735)"/>
<line x1="250" x2="270" transform="rotate(206.38)"/>
<line x1="262" x2="270" transform="rotate(208.025)"/>
<line x1="262" x2="270" transform="rotate(209.67)"/>
<line x1="256" x2="270" transform="rotate(211.315)"/>
<line x1="256" x2="270" transform="rotate(212.96)"/>
<line x1="260" x2="270" transform="rotate(214.605)"/>
<line x1="260" x2="270" transform="rotate(216.25)"/>
<line x1="248" x2="270" transform="rotate(217.895)"/>
<line x1="262" x2="270" transform="rotate(219.54)"/>
<line x1="262" x2="270" transform="rotate(221.185)"/>
<line x1="258" x2="270" transform="rotate(222.83)"/>
<line x1="258" x2="270" transform="rotate(224.475)"/>
<line x1="260" x2="270" transform="rotate(226.12)"/>
<line x1="260" x2="270" transform="rotate(227.765)"/>
<line x1="250" x2="270" transform="rotate(229.41)"/>
<line x1="262" x2="270" transform="rotate(231.055)"/>
<line x1="262" x2="270" transform="rotate(232.7)"/>
<line x1="256" x2="270" transform="rotate(234.345)"/>
<line x1="256" x2="270" transform="rotate(235.99)"/>
<line x1="260" x2="270" transform="rotate(237.635)"/>
<line x1="260" x2="270" transform="rotate(239.28)"/>
<line x1="262" x2="270" transform="rotate(240.925)"/>
<line x1="262" x2="270" transform="rotate(242.57)"/>
<line x1="258" x2="270" transform="rotate(244.215)"/>
<line x1="258" x2="270" transform="rotate(245.86)"/>
<line x1="262" x2="270" transform="rotate(247.505)"/>
<line x1="262" x2="270" transform="rotate(249.15)"/>
<line x1="260" x2="270" transform="rotate(250.795)"/>
<line x1="260" x2="270" transform="rotate(252.44)"/>
<line x1="256" x2="270" transform="rotate(254.085)"/>
<line x1="256" x2="270" transform="rotate(255.73)"/>
<line x1="246" x2="270" transform="rotate(257.375)"/>
<line x1="262" x2="270" transform="rotate(259.02)"/>
<line x1="262" x2="270" transform="rotate(260.665)"/>
<line x1="256" x2="270" transform="rotate(262.31)"/>
<line x1="256" x2="270" transform="rotate(263.955)"/>
<line x1="260" x2="270" transform="rotate(265.6)"/>
<line x1="260" x2="270" transform="rotate(267.245)"/>
<line x1="248" x2="270" transform="rotate(268.89)"/>
<line x1="262" x2="270" transform="rotate(270.535)"/>
<line x1="262" x2="270" transform="rotate(272.18)"/>
<line x1="258" x2="270" transform="rotate(273.825)"/>
<line x1="258" x2="270" transform="rotate(275.47)"/>
<line x1="260" x2="270" transform="rotate(277.115)"/>
<line x1="260" x2="270" transform="rotate(278.76)"/>
<line x1="250" x2="270" transform="rotate(280.405)"/>
<line x1="262" x2="270" transform="rotate(282.05)"/>
<line x1="262" x2="270" transform="rotate(283.695)"/>
<line x1="256" x2="270" transform="rotate(285.34)"/>
<line x1="256" x2="270" transform="rotate(286.985)"/>
<line x1="260" x2="270" transform="rotate(288.63)"/>
<line x1="260" x2="270" transform="rotate(290.275)"/>
<line x1="262" x2="270" transform="rotate(291.92)"/>
<line x1="262" x2="270" transform="rotate(293.565)"/>
<line x1="258" x2="270" transform="rotate(295.21)"/>
<line x1="258" x2="270" transform="rotate(296.855)"/>
<line x1="248" x2="270" transform="rotate(298.5)"/>
<line x1="262" x2="270" transform="rotate(300.145)"/>
<line x1="262" x2="270" transform="rotate(301.79)"/>
<line x1="256" x2="270" transform="rotate(303.435)"/>
<line x1="256" x2="270" transform="rotate(305.08)"/>
<line x1="260" x2="270" transform="rotate(306.725)"/>
<line x1="260" x2="270" transform="rotate(308.37)"/>
<line x1="262" x2="270" transform="rotate(310.015)"/>
<line x1="262" x2="270" transform="rotate(311.66)"/>
<line x1="250" x2="270" transform="rotate(313.305)"/>
<line x1="258" x2="270" transform="rotate(314.95)"/>
<line x1="258" x2="270" transform="rotate(316.595)"/>
<line x1="260" x2="270" transform="rotate(318.24)"/>
<line x1="260" x2="270" transform="rotate(319.885)"/>
<line x1="262" x2="270" transform="rotate(321.53)"/>
<line x1="262" x2="270" transform="rotate(323.175)"/>
<line x1="256" x2="270" transform="rotate(324.82)"/>
<line x1="256" x2="270" transform="rotate(326.465)"/>
<line x1="262" x2="270" transform="rotate(328.11)"/>
<line x1="262" x2="270" transform="rotate(329.755)"/>
<line x1="255" x2="270" transform="rotate(331.4)"/>
<line x1="255" x2="270" transform="rotate(333.045)"/>
<line x1="258" x2="270" transform="rotate(334.69)"/>
<line x1="258" x2="270" transform="rotate(336.335)"/>
<line x1="262" x2="270" transform="rotate(337.98)"/>
<line x1="262" x2="270" transform="rotate(339.625)"/>
<line x1="260" x2="270" transform="rotate(341.27)"/>
<line x1="260" x2="270" transform="rotate(342.915)"/>
<line x1="262" x2="270" transform="rotate(344.56)"/>
<line x1="262" x2="270" transform="rotate(346.205)"/>
<line x1="255" x2="270" transform="rotate(347.85)"/>
<line x1="255" x2="270" transform="rotate(349.495)"/>
<line x1="262" x2="270" transform="rotate(351.14)"/>
<line x1="262" x2="270" transform="rotate(352.785)"/>
<line x1="250" x2="270" transform="rotate(354.43)"/>
<line x1="264" x2="270" transform="rotate(356.075)"/>
<line x1="264" x2="270" transform="rotate(357.72)"/>
</g>
<g id="labels" class="lb">
<g id="HG-194"><text transform="rotate(2.4)" x="279">HG-194</text></g>
<g id="HG-079"><text transform="rotate(4.045)" x="279">HG-079</text></g>
<g id="HG-118"><text transform="rotate(5.69)" x="279">HG-118</text></g>
<g id="HG-173"><text transform="rotate(7.335)" x="279">HG-173</text></g>
<g id="HG-055"><text transform="rotate(8.98)" x="279">HG-055</text></g>
<g id="HG-064"><text transform="rotate(10.625)" x="279">HG-064</text></g>
<g id="HG-168"><text transform="rotate(12.27)" x="279">HG-168</text></g>
<g id="HG-028"><text transform="rotate(13.915)" x="279">HG-028</text></g>
<g id="HG-170"><text transform="rotate(15.56)" x="279">HG-170</text></g>
<g id="HG-145"><text transform="rotate(17.205)" x="279">HG-145</text></g>
<g id="HG-164"><text transform="rotate(18.85)" x="279">HG-164</text></g>
<g id="HG-124"><text transform="rotate(20.495)" x="279">HG-124</text></g>
<g id="HG-102"><text transform="rotate(22.14)" x="279">HG-102</text></g>
<g id="HG-123"><text transform="rotate(23.785)" x="279">HG-123</text></g>
<g id="HG-013"><text transform="rotate(25.43)" x="279">HG-013</text></g>
<g id="HG-110"><text transform="rotate(27.075)" x="279">HG-110</text></g>
<g id="HG-004"><text transform="rotate(28.72)" x="279">HG-004</text></g>
<g id="HG-213"><text transform="rotate(30.365)" x="279">HG-213</text></g>
<g id="HG-073"><text transform="rotate(32.01)" x="279">HG-073</text></g>
<g id="HG-094"><text transform="rotate(33.655)" x="279">HG-094</text></g>
<g id="HG-089"><text transform="rotate(35.3)" x="279">HG-089</text></g>
<g id="HG-075"><text transform="rotate(36.945)" x="279">HG-075</text></g>
<g id="HG-063"><text transform="rotate(38.59)" x="279">HG-063</text></g>
<g id="HG-041"><text transform="rotate(40.235)" x="279">HG-041</text></g>
<g id="HG-078"><text transform="rotate(41.88)" x="279">HG-078</text></g>
<g id="HG-024"><text transform="rotate(43.525)" x="279">HG-024</text></g>
<g id="HG-031"><text transform="rotate(45.17)" x="279">HG-031</text></g>
<g id="HG-066"><text transform="rotate(46.815)" x="279">HG-066</text></g>
<g id="HG-172"><text transform="rotate(48.46)" x="279">HG-172</text></g>
<g id="HG-190"><text transform="rotate(50.105)" x="279">HG-190</text></g>
<g id="HG-067"><text transform="rotate(51.75)" x="279">HG-067</text></g>
<g id="HG-114"><text transform="rotate(53.395)" x="279">HG-114</text></g>
<g id="HG-178"><text transform="rotate(55.04)" x="279">HG-178</text></g>
<g id="HG-130"><text transform="rotate(56.685)" x="279">HG-130</text></g>
<g id="HG-092"><text transform="rotate(58.33)" x="279">HG-092</text></g>
<g id="HG-212"><text transform="rotate(59.975)" x="279">HG-212</text></g>
<g id="HG-027"><text transform="rotate(61.62)" x="279">HG-027</text></g>
<g id="HG-154"><text transform="rotate(63.265)" x="279">HG-154</text></g>
<g id="HG-091"><text transform="rotate(64.91)" x="279">HG-091</text></g>
<g id="HG-139"><text transform="rotate(66.555)" x="279">HG-139</text></g>
<g id="HG-086"><text transform="rotate(68.2)" x="279">HG-086</text></g>
<g id="HG-109"><text transform="rotate(69.845)" x="279">HG-109</text></g>
<g id="HG-020"><text transform="rotate(71.49)" x="279">HG-020</text></g>
<g id="HG-171"><text transform="rotate(73.135)" x="279">HG-171</text></g>
<g id="HG-009"><text transform="rotate(74.78)" x="279">HG-009</text></g>
<g id="HG-106"><text transform="rotate(76.425)" x="279">HG-106</text></g>
<g id="HG-069"><text transform="rotate(78.07)" x="279">HG-069</text></g>
<g id="HG-037"><text transform="rotate(79.715)" x="279">HG-037</text></g>
<g id="HG-161"><text transform="rotate(81.36)" x="279">HG-161</text></g>
<g id="HG-082"><text transform="rotate(83.005)" x="279">HG-082</text></g>
<g id="HG-029"><text transform="rotate(84.65)" x="279">HG-029</text></g>
<g id="HG-121"><text transform="rotate(86.295)" x="279">HG-121</text></g>
<g id="HG-034"><text transform="rotate(87.94)" x="279">HG-034</text></g>
<g id="HG-084"><text transform="rotate(89.585)" x="279">HG-084</text></g>
<g id="HG-098"><text class="e" transform="rotate(-88.77)" x="-279">HG-098</text></g>
<g id="HG-120"><text class="e" transform="rotate(-87.125)" x="-279">HG-120</text></g>
<g id="HG-090"><text class="e" transform="rotate(-85.48)" x="-279">HG-090</text></g>
<g id="HG-174"><text class="e" transform="rotate(-83.835)" x="-279">HG-174</text></g>
<g id="HG-129"><text class="e" transform="rotate(-82.19)" x="-279">HG-129</text></g>
<g id="HG-132"><text class="e" transform="rotate(-80.545)" x="-279">HG-132</text></g>
<g id="HG-050"><text class="e" transform="rotate(-78.9)" x="-279">HG-050</text></g>
<g id="HG-093"><text class="e" transform="rotate(-77.255)" x="-279">HG-093</text></g>
<g id="HG-156"><text class="e" transform="rotate(-75.61)" x="-279">HG-156</text></g>
<g id="HG-142"><text class="e" transform="rotate(-73.965)" x="-279">HG-142</text></g>
<g id="HG-160"><text class="e" transform="rotate(-72.32)" x="-279">HG-160</text></g>
<g id="HG-209"><text class="e" transform="rotate(-70.675)" x="-279">HG-209</text></g>
<g id="HG-100"><text class="e" transform="rotate(-69.03)" x="-279">HG-100</text></g>
<g id="HG-167"><text class="e" transform="rotate(-67.385)" x="-279">HG-167</text></g>
<g id="HG-126"><text class="e" transform="rotate(-65.74)" x="-279">HG-126</text></g>
<g id="HG-049"><text class="e" transform="rotate(-64.095)" x="-279">HG-049</text></g>
<g id="HG-140"><text class="e" transform="rotate(-62.45)" x="-279">HG-140</text></g>
<g id="HG-162"><text class="e" transform="rotate(-60.805)" x="-279">HG-162</text></g>
<g id="HG-040"><text class="e" transform="rotate(-59.16)" x="-279">HG-040</text></g>
<g id="HG-014"><text class="e" transform="rotate(-57.515)" x="-279">HG-014</text></g>
<g id="HG-206"><text class="e" transform="rotate(-55.87)" x="-279">HG-206</text></g>
<g id="HG-036"><text class="e" transform="rotate(-54.225)" x="-279">HG-036</text></g>
<g id="HG-199"><text class="e" transform="rotate(-52.58)" x="-279">HG-199</text></g>
<g id="HG-026"><text class="e" transform="rotate(-50.935)" x="-279">HG-026</text></g>
<g id="HG-153"><text class="e" transform="rotate(-49.29)" x="-279">HG-153</text></g>
<g id="HG-186"><text class="e" transform="rotate(-47.645)" x="-279">HG-186</text></g>
<g id="HG-048"><text class="e" transform="rotate(-46)" x="-279">HG-048</text></g>
<g id="HG-035"><text class="e" transform="rotate(-44.355)" x="-279">HG-035</text></g>
<g id="HG-016"><text class="e" transform="rotate(-42.71)" x="-279">HG-016</text></g>
<g id="HG-182"><text class="e" transform="rotate(-41.065)" x="-279">HG-182</text></g>
<g id="HG-074"><text class="e" transform="rotate(-39.42)" x="-279">HG-074</text></g>
<g id="HG-053"><text class="e" transform="rotate(-37.775)" x="-279">HG-053</text></g>
<g id="HG-202"><text class="e" transform="rotate(-36.13)" x="-279">HG-202</text></g>
<g id="HG-003"><text class="e" transform="rotate(-34.485)" x="-279">HG-003</text></g>
<g id="HG-101"><text class="e" transform="rotate(-32.84)" x="-279">HG-101</text></g>
<g id="HG-198"><text class="e" transform="rotate(-31.195)" x="-279">HG-198</text></g>
<g id="HG-096"><text class="e" transform="rotate(-29.55)" x="-279">HG-096</text></g>
<g id="HG-113"><text class="e" transform="rotate(-27.905)" x="-279">HG-113</text></g>
<g id="HG-021"><text class="e" transform="rotate(-26.26)" x="-279">HG-021</text></g>
<g id="HG-006"><text class="e" transform="rotate(-24.615)" x="-279">HG-006</text></g>
<g id="HG-192"><text class="e" transform="rotate(-22.97)" x="-279">HG-192</text></g>
<g id="HG-072"><text class="e" transform="rotate(-21.325)" x="-279">HG-072</text></g>
<g id="HG-099"><text class="e" transform="rotate(-19.68)" x="-279">HG-099</text></g>
<g id="HG-203"><text class="e" transform="rotate(-18.035)" x="-279">HG-203</text></g>
<g id="HG-015"><text class="e" transform="rotate(-16.39)" x="-279">HG-015</text></g>
<g id="HG-087"><text class="e" transform="rotate(-14.745)" x="-279">HG-087</text></g>
<g id="HG-060"><text class="e" transform="rotate(-13.1)" x="-279">HG-060</text></g>
<g id="HG-042"><text class="e" transform="rotate(-11.455)" x="-279">HG-042</text></g>
<g id="HG-166"><text class="e" transform="rotate(-9.81)" x="-279">HG-166</text></g>
<g id="HG-136"><text class="e" transform="rotate(-8.165)" x="-279">HG-136</text></g>
<g id="HG-012"><text class="e" transform="rotate(-6.52)" x="-279">HG-012</text></g>
<g id="HG-043"><text class="e" transform="rotate(-4.875)" x="-279">HG-043</text></g>
<g id="HG-071"><text class="e" transform="rotate(-3.23)" x="-279">HG-071</text></g>
<g id="HG-070"><text class="e" transform="rotate(-1.585)" x="-279">HG-070</text></g>
<g id="HG-107"><text class="e" transform="rotate(0.06)" x="-279">HG-107</text></g>
<g id="HG-044"><text class="e" transform="rotate(1.705)" x="-279">HG-044</text></g>
<g id="HG-001"><text class="e" transform="rotate(3.35)" x="-279">HG-001</text></g>
<g id="HG-193"><text class="e" transform="rotate(4.995)" x="-279">HG-193</text></g>
<g id="HG-030"><text class="e" transform="rotate(6.64)" x="-279">HG-030</text></g>
<g id="HG-011"><text class="e" transform="rotate(8.285)" x="-279">HG-011</text></g>
<g id="HG-117"><text class="e" transform="rotate(9.93)" x="-279">HG-117</text></g>
<g id="HG-207"><text class="e" transform="rotate(11.575)" x="-279">HG-207</text></g>
<g id="HG-127"><text class="e" transform="rotate(13.22)" x="-279">HG-127</text></g>
<g id="HG-128"><text class="e" transform="rotate(14.865)" x="-279">HG-128</text></g>
<g id="HG-019"><text class="e" transform="rotate(16.51)" x="-279">HG-019</text></g>
<g id="HG-215"><text class="e" transform="rotate(18.155)" x="-279">HG-215</text></g>
<g id="HG-039"><text class="e" transform="rotate(19.8)" x="-279">HG-039</text></g>
<g id="HG-025"><text class="e" transform="rotate(21.445)" x="-279">HG-025</text></g>
<g id="HG-158"><text class="e" transform="rotate(23.09)" x="-279">HG-158</text></g>
<g id="HG-195"><text class="e" transform="rotate(24.735)" x="-279">HG-195</text></g>
<g id="HG-210"><text class="e" transform="rotate(26.38)" x="-279">HG-210</text></g>
<g id="HG-165"><text class="e" transform="rotate(28.025)" x="-279">HG-165</text></g>
<g id="HG-138"><text class="e" transform="rotate(29.67)" x="-279">HG-138</text></g>
<g id="HG-080"><text class="e" transform="rotate(31.315)" x="-279">HG-080</text></g>
<g id="HG-134"><text class="e" transform="rotate(32.96)" x="-279">HG-134</text></g>
<g id="HG-122"><text class="e" transform="rotate(34.605)" x="-279">HG-122</text></g>
<g id="HG-152"><text class="e" transform="rotate(36.25)" x="-279">HG-152</text></g>
<g id="HG-062"><text class="e" transform="rotate(37.895)" x="-279">HG-062</text></g>
<g id="HG-141"><text class="e" transform="rotate(39.54)" x="-279">HG-141</text></g>
<g id="HG-051"><text class="e" transform="rotate(41.185)" x="-279">HG-051</text></g>
<g id="HG-065"><text class="e" transform="rotate(42.83)" x="-279">HG-065</text></g>
<g id="HG-135"><text class="e" transform="rotate(44.475)" x="-279">HG-135</text></g>
<g id="HG-181"><text class="e" transform="rotate(46.12)" x="-279">HG-181</text></g>
<g id="HG-131"><text class="e" transform="rotate(47.765)" x="-279">HG-131</text></g>
<g id="HG-155"><text class="e" transform="rotate(49.41)" x="-279">HG-155</text></g>
<g id="HG-133"><text class="e" transform="rotate(51.055)" x="-279">HG-133</text></g>
<g id="HG-149"><text class="e" transform="rotate(52.7)" x="-279">HG-149</text></g>
<g id="HG-054"><text class="e" transform="rotate(54.345)" x="-279">HG-054</text></g>
<g id="HG-083"><text class="e" transform="rotate(55.99)" x="-279">HG-083</text></g>
<g id="HG-143"><text class="e" transform="rotate(57.635)" x="-279">HG-143</text></g>
<g id="HG-112"><text class="e" transform="rotate(59.28)" x="-279">HG-112</text></g>
<g id="HG-056"><text class="e" transform="rotate(60.925)" x="-279">HG-056</text></g>
<g id="HG-097"><text class="e" transform="rotate(62.57)" x="-279">HG-097</text></g>
<g id="HG-183"><text class="e" transform="rotate(64.215)" x="-279">HG-183</text></g>
<g id="HG-125"><text class="e" transform="rotate(65.86)" x="-279">HG-125</text></g>
<g id="HG-032"><text class="e" transform="rotate(67.505)" x="-279">HG-032</text></g>
<g id="HG-058"><text class="e" transform="rotate(69.15)" x="-279">HG-058</text></g>
<g id="HG-137"><text class="e" transform="rotate(70.795)" x="-279">HG-137</text></g>
<g id="HG-157"><text class="e" transform="rotate(72.44)" x="-279">HG-157</text></g>
<g id="HG-068"><text class="e" transform="rotate(74.085)" x="-279">HG-068</text></g>
<g id="HG-081"><text class="e" transform="rotate(75.73)" x="-279">HG-081</text></g>
<g id="HG-061"><text class="e" transform="rotate(77.375)" x="-279">HG-061</text></g>
<g id="HG-022"><text class="e" transform="rotate(79.02)" x="-279">HG-022</text></g>
<g id="HG-077"><text class="e" transform="rotate(80.665)" x="-279">HG-077</text></g>
<g id="HG-076"><text class="e" transform="rotate(82.31)" x="-279">HG-076</text></g>
<g id="HG-176"><text class="e" transform="rotate(83.955)" x="-279">HG-176</text></g>
<g id="HG-052"><text class="e" transform="rotate(85.6)" x="-279">HG-052</text></g>
<g id="HG-119"><text class="e" transform="rotate(87.245)" x="-279">HG-119</text></g>
<g id="HG-163"><text class="e" transform="rotate(88.89)" x="-279">HG-163</text></g>
<g id="HG-187"><text transform="rotate(270.535)" x="279">HG-187</text></g>
<g id="HG-208"><text transform="rotate(272.18)" x="279">HG-208</text></g>
<g id="HG-150"><text transform="rotate(273.825)" x="279">HG-150</text></g>
<g id="HG-185"><text transform="rotate(275.47)" x="279">HG-185</text></g>
<g id="HG-115"><text transform="rotate(277.115)" x="279">HG-115</text></g>
<g id="HG-005"><text transform="rotate(278.76)" x="279">HG-005</text></g>
<g id="HG-144"><text transform="rotate(280.405)" x="279">HG-144</text></g>
<g id="HG-147"><text transform="rotate(282.05)" x="279">HG-147</text></g>
<g id="HG-197"><text transform="rotate(283.695)" x="279">HG-197</text></g>
<g id="HG-216"><text transform="rotate(285.34)" x="279">HG-216</text></g>
<g id="HG-088"><text transform="rotate(286.985)" x="279">HG-088</text></g>
<g id="HG-008"><text transform="rotate(288.63)" x="279">HG-008</text></g>
<g id="HG-179"><text transform="rotate(290.275)" x="279">HG-179</text></g>
<g id="HG-148"><text transform="rotate(291.92)" x="279">HG-148</text></g>
<g id="HG-038"><text transform="rotate(293.565)" x="279">HG-038</text></g>
<g id="HG-023"><text transform="rotate(295.21)" x="279">HG-023</text></g>
<g id="HG-103"><text transform="rotate(296.855)" x="279">HG-103</text></g>
<g id="HG-211"><text transform="rotate(298.5)" x="279">HG-211</text></g>
<g id="HG-169"><text transform="rotate(300.145)" x="279">HG-169</text></g>
<g id="HG-175"><text transform="rotate(301.79)" x="279">HG-175</text></g>
<g id="HG-108"><text transform="rotate(303.435)" x="279">HG-108</text></g>
<g id="HG-111"><text transform="rotate(305.08)" x="279">HG-111</text></g>
<g id="HG-214"><text transform="rotate(306.725)" x="279">HG-214</text></g>
<g id="HG-200"><text transform="rotate(308.37)" x="279">HG-200</text></g>
<g id="HG-177"><text transform="rotate(310.015)" x="279">HG-177</text></g>
<g id="HG-188"><text transform="rotate(311.66)" x="279">HG-188</text></g>
<g id="HG-201"><text transform="rotate(313.305)" x="279">HG-201</text></g>
<g id="HG-205"><text transform="rotate(314.95)" x="279">HG-205</text></g>
<g id="HG-180"><text transform="rotate(316.595)" x="279">HG-180</text></g>
<g id="HG-184"><text transform="rotate(318.24)" x="279">HG-184</text></g>
<g id="HG-204"><text transform="rotate(319.885)" x="279">HG-204</text></g>
<g id="HG-217"><text transform="rotate(321.53)" x="279">HG-217</text></g>
<g id="HG-189"><text transform="rotate(323.175)" x="279">HG-189</text></g>
<g id="HG-159"><text transform="rotate(324.82)" x="279">HG-159</text></g>
<g id="HG-218"><text transform="rotate(326.465)" x="279">HG-218</text></g>
<g id="HG-047"><text transform="rotate(328.11)" x="279">HG-047</text></g>
<g id="HG-033"><text transform="rotate(329.755)" x="279">HG-033</text></g>
<g id="HG-007"><text transform="rotate(331.4)" x="279">HG-007</text></g>
<g id="HG-151"><text transform="rotate(333.045)" x="279">HG-151</text></g>
<g id="HG-045"><text transform="rotate(334.69)" x="279">HG-045</text></g>
<g id="HG-196"><text transform="rotate(336.335)" x="279">HG-196</text></g>
<g id="HG-010"><text transform="rotate(337.98)" x="279">HG-010</text></g>
<g id="HG-059"><text transform="rotate(339.625)" x="279">HG-059</text></g>
<g id="HG-146"><text transform="rotate(341.27)" x="279">HG-146</text></g>
<g id="HG-104"><text transform="rotate(342.915)" x="279">HG-104</text></g>
<g id="HG-095"><text transform="rotate(344.56)" x="279">HG-095</text></g>
<g id="HG-191"><text transform="rotate(346.205)" x="279">HG-191</text></g>
<g id="HG-046"><text transform="rotate(347.85)" x="279">HG-046</text></g>
<g id="HG-002"><text transform="rotate(349.495)" x="279">HG-002</text></g>
<g id="HG-116"><text transform="rotate(351.14)" x="279">HG-116</text></g>
<g id="HG-105"><text transform="rotate(352.785)" x="279">HG-105</text></g>
<g id="HG-085"><text transform="rotate(354.43)" x="279">HG-085</text></g>
<g id="HG-018"><text transform="rotate(356.075)" x="279">HG-018</text></g>
<g id="HG-017"><text transform="rotate(357.72)" x="279">HG-017</text></g>
</g>
</g>
<g id="clusters">
<text class="rn" x="577" y="50" fill="#E8531E">I</text>
<text class="rn" x="344" y="735" fill="#7DBDE8">II</text>
<text class="rn" x="176" y="90" fill="#C9A980">III</text>
<text class="rn" x="790" y="262" fill="#A3A3A3">IV</text>
</g>
</svg>
